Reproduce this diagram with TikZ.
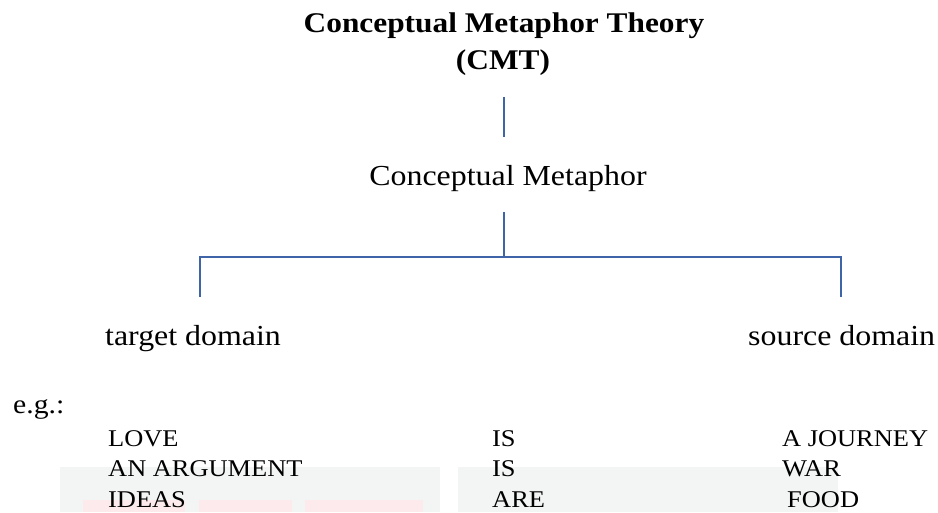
\documentclass[tikz,border=0pt]{standalone}
\usepackage{fontspec}
\setmainfont{Liberation Serif}[FakeStretch=1.1]
\definecolor{linkblue}{RGB}{64,100,168}
\definecolor{wmgrey}{RGB}{243,244,244}
\definecolor{wmpink}{RGB}{252,234,237}
\tikzset{
	big/.style={inner sep=0pt, font=\fontsize{29}{34}\selectfont},
	small/.style={inner sep=0pt, anchor=base west, font=\fontsize{24}{29}\selectfont},
	branch/.style={line width=2.4pt, linkblue}
}
\begin{document}
\begin{tikzpicture}[x=1pt, y=-1pt]
		\useasboundingbox (0,0) rectangle (938,512);
		% faint boxes behind the examples
		\fill[wmgrey] (60,467) rectangle (440,512);
		\fill[wmgrey] (458,467) rectangle (838,512);
		\fill[wmpink] (83,500) rectangle (185,512);
		\fill[wmpink] (199,500) rectangle (292,512);
		\fill[wmpink] (305,500) rectangle (423,512);
		% tree
		\node[big, anchor=base, font=\fontsize{28.5}{34}\selectfont\bfseries] (title) at (504,32) {Conceptual Metaphor Theory};
		\node[big, anchor=base, font=\fontsize{28.5}{34}\selectfont\bfseries] (cmt) at (503,69) {(CMT)};
		\node[big, anchor=base] (cm) at (508,185) {Conceptual Metaphor};
		\node[big, anchor=base west] (tgt) at (105,345) {target domain};
		\node[big, anchor=base west] (src) at (748,345) {source domain};
		\coordinate (hub) at (504,257);
		\coordinate (lfoot) at (200,297);
		\coordinate (rfoot) at (841,297);
		\draw[branch, shorten <=22pt, shorten >=28pt] (hub |- cmt.south) -- (hub |- cm.north);
		\draw[branch, shorten <=21pt] (hub |- cm.south) -- (hub);
		\draw[branch] (hub) -| (lfoot);
		\draw[branch] (hub) -| (rfoot);
		% examples
		\node[big, anchor=base west, font=\fontsize{27}{32}\selectfont] (eg) at (13,413) {e.g.:};
		\node[small] (love) at (108,446) {LOVE};
		\node[small] (arg) at (108,476) {AN ARGUMENT};
		\node[small] (ideas) at (108,507) {IDEAS};
		\node[small] (is1) at (492,446) {IS};
		\node[small] (is2) at (492,476) {IS};
		\node[small] (are) at (492,507) {ARE};
		\node[small] (journey) at (782,446) {A JOURNEY};
		\node[small] (war) at (782,476) {WAR};
		\node[small] (food) at (787,507) {FOOD};
	\end{tikzpicture}
\end{document}
